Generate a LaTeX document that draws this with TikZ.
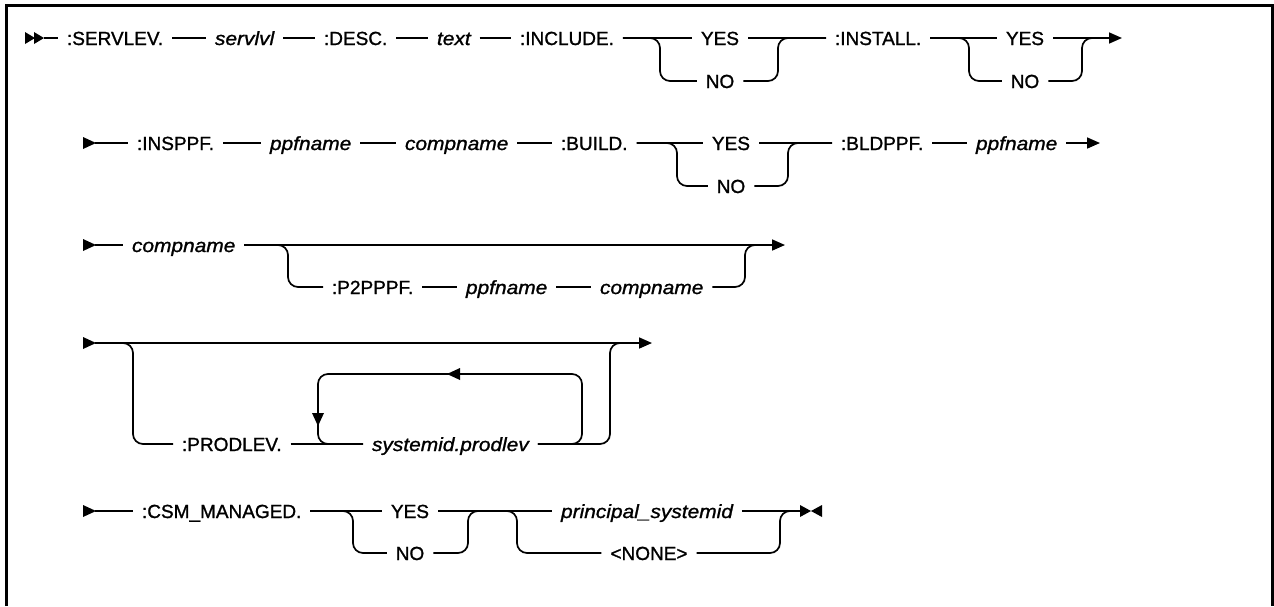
\documentclass[tikz,border=0pt]{standalone}
\usepackage{fontspec}
\setmainfont{Liberation Sans}[UprightFeatures={FakeBold=1.2},ItalicFeatures={FakeStretch=1.1,FakeBold=1.2}]
\usetikzlibrary{arrows.meta,calc}
\tikzset{
  kw/.style={inner sep=0pt, outer xsep=9pt, outer ysep=0pt, text height=15pt, text depth=1pt,
             font=\fontsize{19pt}{22pt}\selectfont},
  var/.style={kw, font=\fontsize{19pt}{22pt}\selectfont\itshape},
  rail/.style={line width=1.7pt, rounded corners=10pt},
  endarrow/.style={-{Triangle[length=13pt,width=11pt]}},
  frameline/.style={line width=3pt},
}
\begin{document}
\begin{tikzpicture}[x=1pt,y=-1pt]
\useasboundingbox (0,0) rectangle (1274,606);
\draw[frameline] (6,606) -- (6,5) -- (1272,5) -- (1272,606);

% ---------------- Row 1 ----------------
\fill (25,32) -- (35,38) -- (25,44) -- cycle;
\fill (34,32) -- (44,38) -- (34,44) -- cycle;
\coordinate (r1s) at (44,38);
\node[kw,anchor=west]  (servlev) at (58,38)  {:SERVLEV.};
\node[var,anchor=west] (servlvl) at (206,38) {servlvl};
\node[kw,anchor=west]  (desc)    at (315,38) {:DESC.};
\node[var,anchor=west] (txt)     at (428,38) {text};
\node[kw,anchor=west]  (incl)    at (511,38) {:INCLUDE.};
\node[kw] (yesA) at (720,38) {YES};
\node[kw] (noA)  at (720,81) {NO};
\coordinate (aL) at (660,38);
\coordinate (aR) at (778,38);
\node[kw,anchor=west]  (inst)    at (826,38) {:INSTALL.};
\node[kw] (yesB) at (1025,38) {YES};
\node[kw] (noB)  at (1025,81) {NO};
\coordinate (bL) at (969,38);
\coordinate (bR) at (1082,38);
\coordinate (bR2) at (1094,38);
\coordinate (r1e) at (1122,38);

\draw[rail] (r1s) -- (servlev.west);
\draw[rail] (servlev.east) -- (servlvl.west);
\draw[rail] (servlvl.east) -- (desc.west);
\draw[rail] (desc.east) -- (txt.west);
\draw[rail] (txt.east) -- (incl.west);
\draw[rail] (incl.east) -- (yesA.west);
\draw[rail] (yesA.east) -- (inst.west);
\draw[rail] (incl.east) -- (aL) |- (noA.west);
\draw[rail] (noA.east) -| (aR) -- (inst.west);
\draw[rail] (inst.east) -- (yesB.west);
\draw[rail,endarrow] (yesB.east) -- (r1e);
\draw[rail] (inst.east) -- (bL) |- (noB.west);
\draw[rail] (noB.east) -| (bR) -- (bR2);

% ---------------- Row 2 ----------------
\fill (83,137) -- (96,143) -- (83,149) -- cycle;
\coordinate (r2s) at (95,143);
\node[kw,anchor=west]  (insppf) at (128,143) {:INSPPF.};
\node[var,anchor=west] (ppf1)   at (261,143) {ppfname};
\node[var,anchor=west] (cmp1)   at (396,143) {compname};
\node[kw,anchor=west]  (build)  at (552,143) {:BUILD.};
\node[kw] (yesC) at (731,143) {YES};
\node[kw] (noC)  at (731,186) {NO};
\coordinate (cL) at (677,143);
\coordinate (cR) at (788,143);
\node[kw,anchor=west]  (bldppf) at (832,143) {:BLDPPF.};
\node[var,anchor=west] (ppf2)   at (967,143) {ppfname};
\coordinate (r2e) at (1100,143);

\draw[rail] (r2s) -- (insppf.west);
\draw[rail] (insppf.east) -- (ppf1.west);
\draw[rail] (ppf1.east) -- (cmp1.west);
\draw[rail] (cmp1.east) -- (build.west);
\draw[rail] (build.east) -- (yesC.west);
\draw[rail] (yesC.east) -- (bldppf.west);
\draw[rail] (build.east) -- (cL) |- (noC.west);
\draw[rail] (noC.east) -| (cR) -- (bldppf.west);
\draw[rail] (bldppf.east) -- (ppf2.west);
\draw[rail,endarrow] (ppf2.east) -- (r2e);

% ---------------- Row 3 ----------------
\fill (83,239) -- (96,245) -- (83,251) -- cycle;
\coordinate (r3s) at (95,245);
\node[var,anchor=west] (cmp2)  at (123,245) {compname};
\node[kw,anchor=west]  (p2ppf) at (323,287) {:P2PPPF.};
\node[var,anchor=west] (ppf3)  at (457,287) {ppfname};
\node[var,anchor=west] (cmp3)  at (591,287) {compname};
\coordinate (dL) at (288,245);
\coordinate (dR) at (745,245);
\coordinate (dR2) at (757,245);
\coordinate (r3e) at (785,245);

\draw[rail] (r3s) -- (cmp2.west);
\draw[rail,endarrow] (cmp2.east) -- (r3e);
\draw[rail] (cmp2.east) -- (dL) |- (p2ppf.west);
\draw[rail] (p2ppf.east) -- (ppf3.west);
\draw[rail] (ppf3.east) -- (cmp3.west);
\draw[rail] (cmp3.east) -| (dR) -- (dR2);

% ---------------- Row 4 ----------------
\fill (83,337) -- (96,343) -- (83,349) -- cycle;
\coordinate (r4s) at (95,343);
\coordinate (r4e) at (652,343);
\coordinate (eL) at (133,343);
\coordinate (eR) at (610,343);
\coordinate (eR2) at (622,343);
\node[kw,anchor=west]  (prodlev) at (173,444) {:PRODLEV.};
\node[var,anchor=west] (sysprod) at (363,444) {systemid.prodlev};
\coordinate (lpTR) at (582,374);
\coordinate (lpTL) at (318,374);

\draw[rail,endarrow] (r4s) -- (r4e);
\draw[rail] (r4s) -- (eL) |- (prodlev.west);
\draw[rail] (prodlev.east) -- (sysprod.west);
\draw[rail] (sysprod.east) -| (eR) -- (eR2);
\draw[rail] (sysprod.east) -| (lpTR) -- (lpTL) |- (sysprod.west);
\fill (447,374) -- (460,368) -- (460,380) -- cycle;
\fill (318,426) -- (312,413) -- (324,413) -- cycle;

% ---------------- Row 5 ----------------
\fill (83,505) -- (96,511) -- (83,517) -- cycle;
\coordinate (r5s) at (95,511);
\node[kw,anchor=west] (csm) at (133,511) {:CSM\_MANAGED.};
\node[kw] (yesD) at (410,511) {YES};
\node[kw] (noD)  at (410,553) {NO};
\coordinate (fL) at (353,511);
\coordinate (fR) at (468,511);
\coordinate (fR2) at (480,511);
\node[var] (princ) at (647,511) {principal\_systemid};
\node[kw]  (none)  at (649,553) {<NONE>};
\coordinate (gL) at (517,511);
\coordinate (gR) at (780,511);
\coordinate (r5e) at (800,511);

\draw[rail] (r5s) -- (csm.west);
\draw[rail] (csm.east) -- (yesD.west);
\draw[rail] (yesD.east) -- (princ.west);
\draw[rail] (csm.east) -- (fL) |- (noD.west);
\draw[rail] (noD.east) -| (fR) -- (fR2);
\draw[rail] (yesD.east) -- (gL) |- (none.west);
\draw[rail] (none.east) -| (gR) -- (r5e);
\draw[rail] (princ.east) -- (r5e);
\fill (800,505) -- (811,511) -- (800,517) -- cycle;
\fill (822,505) -- (811,511) -- (822,517) -- cycle;
\end{tikzpicture}
\end{document}
